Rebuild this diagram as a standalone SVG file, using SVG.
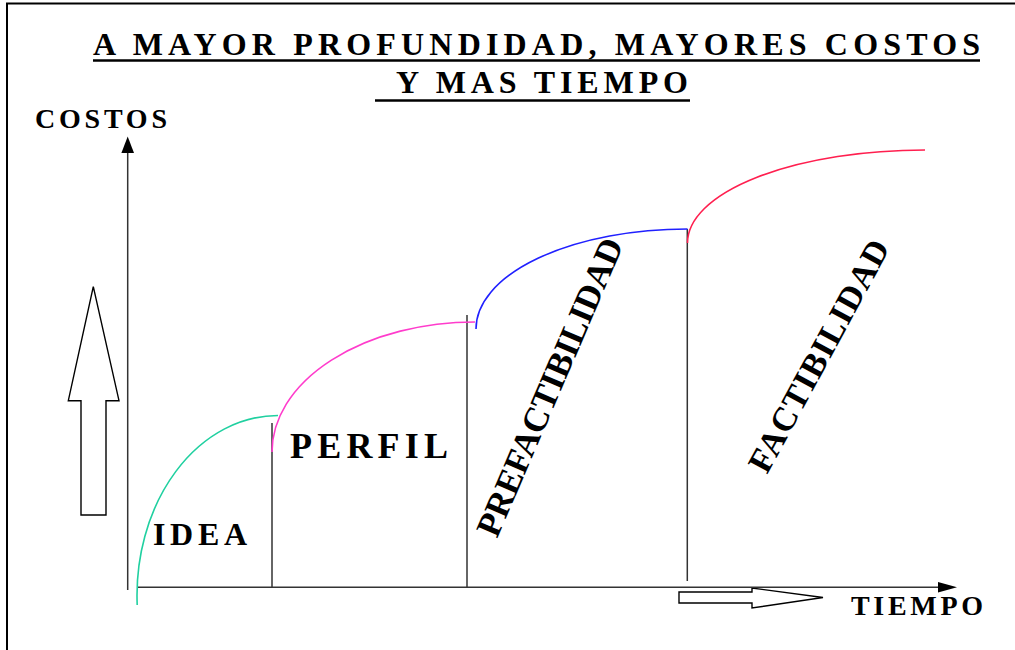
<svg xmlns="http://www.w3.org/2000/svg" width="1015" height="650" viewBox="0 0 1015 650">
  <style>
    .t { font-family: "Liberation Serif", "Times New Roman", serif; font-weight: bold; fill: #000; }
    .ax { stroke: #333; stroke-width: 1.5; fill: none; }
    .div { stroke: #333; stroke-width: 1.5; fill: none; }
    .cv { stroke-width: 1.6; fill: none; }
    .hollow { fill: #fff; stroke: #000; stroke-width: 1.4; stroke-linejoin: miter; }
    .ul { stroke: #000; stroke-width: 2.5; }
  </style>
  <rect width="1015" height="650" fill="#fff"/>
  <g id="frame">
    <path d="M7,650 V3.5 H1015" fill="none" stroke="#000" stroke-width="2"/>
  </g>
  <g id="title">
    <text class="t" x="93" y="55" font-size="32" textLength="887" lengthAdjust="spacing">A MAYOR PROFUNDIDAD, MAYORES COSTOS</text>
    <line class="ul" x1="93" y1="60.5" x2="980" y2="60.5"/>
    <text class="t" x="396" y="93" font-size="32" textLength="292" lengthAdjust="spacing">Y MAS TIEMPO</text>
    <line class="ul" x1="375" y1="100.5" x2="690" y2="100.5"/>
  </g>
  <g id="label-costos">
    <text class="t" x="35" y="128.3" font-size="28" textLength="132" lengthAdjust="spacing">COSTOS</text>
  </g>
  <g id="label-tiempo">
    <text class="t" x="851" y="615" font-size="28" textLength="132" lengthAdjust="spacing">TIEMPO</text>
  </g>
  <g id="arrow-up">
    <polygon class="hollow" points="93.3,286.7 119,400.7 106,400.7 106,515 81,515 81,400.7 68.3,400.7"/>
  </g>
  <g id="arrow-right">
    <polygon class="hollow" points="679,592 752,592 752,588 823,597.5 752,608 752,603 679,603"/>
  </g>
  <g id="connectors">
    <line class="ax" x1="127.7" y1="590" x2="127.7" y2="150"/>
    <polygon points="127.7,136.5 134,153 121.4,153" fill="#000"/>
    <line class="ax" x1="137" y1="587.3" x2="942" y2="587.3"/>
    <polygon points="957,587.3 938,582 938,592.6" fill="#000"/>
    <line class="div" x1="272" y1="423" x2="272" y2="588"/>
    <line class="div" x1="467" y1="315" x2="467" y2="588"/>
    <line class="div" x1="687.3" y1="229" x2="687.3" y2="581"/>
    <path class="cv" stroke="#20d0a0" d="M137.2,605 A141,180 0 0 1 278,415.5"/>
    <path class="cv" stroke="#ff3ccc" d="M272,452 A203,130 0 0 1 475,322"/>
    <path class="cv" stroke="#2020ff" d="M476,329 A211.5,100 0 0 1 687.5,229"/>
    <path class="cv" stroke="#ff1f4f" d="M687.5,243 A237.5,93 0 0 1 925,150"/>
  </g>
  <g id="phase-idea">
    <text class="t" x="153" y="545" font-size="32" textLength="94" lengthAdjust="spacing">IDEA</text>
  </g>
  <g id="phase-perfil">
    <text class="t" x="290" y="458" font-size="36" textLength="158" lengthAdjust="spacing">PERFIL</text>
  </g>
  <g id="phase-prefactibilidad">
    <text class="t" transform="translate(497,539) rotate(-66.7)" x="0" y="0" font-size="35" textLength="321" lengthAdjust="spacing">PREFACTIBILIDAD</text>
  </g>
  <g id="phase-factibilidad">
    <text class="t" transform="translate(767,475) rotate(-61.5)" x="0" y="0" font-size="34" textLength="259" lengthAdjust="spacing">FACTIBILIDAD</text>
  </g>
</svg>
